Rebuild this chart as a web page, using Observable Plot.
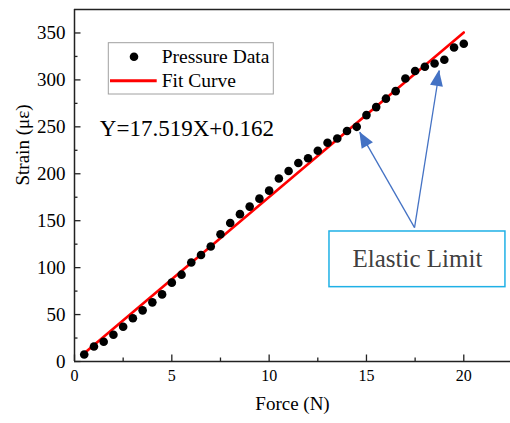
<!DOCTYPE html>
<html><head><meta charset="utf-8">
<script src="https://cdn.jsdelivr.net/npm/d3@7"></script>
<script src="https://cdn.jsdelivr.net/npm/@observablehq/plot@0.6"></script>
<style>
body{margin:0;background:#fff;}
#wrap{position:relative;width:510px;height:423px;font-family:"Liberation Serif","Times New Roman",serif;}
#wrap svg{overflow:visible;}
#wrap svg text{font-family:"Liberation Serif","Times New Roman",serif;}
</style></head>
<body><div id="wrap"></div>
<script>
// ---- data ----
const force = [0.5,1,1.5,2,2.5,3,3.5,4,4.5,5,5.5,6,6.5,7,7.5,8,8.5,9,9.5,10,10.5,11,11.5,12,12.5,13,13.5,14,14.5,15,15.5,16,16.5,17,17.5,18,18.5,19,19.5,20];
const strain = [7.5,16,21,28.5,37,46,54.5,63,71.5,84,92.5,105.5,113.5,122.5,135.5,147.5,157,165,173.5,182,195,203,211.5,216.5,224.5,233,237.5,245.5,250,262.5,271,280,288,301.5,309.5,314,317.5,321.5,334.5,338.5];
const fitX = [0.5, 20];
const fitY = [8.9, 350.5];
const xTicks = [0,5,10,15,20];
const xMinor = [2.5,7.5,12.5,17.5];
const yTicks = [0,50,100,150,200,250,300,350];
const yMinor = [25,75,125,175,225,275,325];
const xLabel = "Force (N)";
const yLabel = "Strain (με)";
const seriesNames = ["Pressure Data","Fit Curve"];
const equation = "Y=17.519X+0.162";
const calloutLabel = "Elastic Limit";
const calloutBox = [{x1:13.1, x2:22.14, y1:79.2, y2:138.5}];
const arrowFrom = [17.47, 142.7];
const arrowTips = [[14.66, 244.3],[18.75, 310]];

const points = force.map((f,i)=>({f, s: strain[i]}));
const fit = fitX.map((f,i)=>({f, s: fitY[i]}));
const xDomain = [0, 22.4], yDomain = [0, 375];
const axisColor = "#222";
const blue = "#4472c4";
const serif = '"Liberation Serif","Times New Roman",serif';

function arrowHeads(index, scales) {
  const g = d3.create("svg:g");
  const bx = scales.x(arrowFrom[0]), by = scales.y(arrowFrom[1]);
  for (const [tx, ty] of arrowTips) {
    const px = scales.x(tx), py = scales.y(ty);
    const ang = Math.atan2(py - by, px - bx);
    const L = 16, W = 6.5;
    const ux = Math.cos(ang), uy = Math.sin(ang);
    const cx = px - ux * L, cy = py - uy * L;
    const pts = [[px, py], [cx - uy * W, cy + ux * W], [cx + uy * W, cy - ux * W]];
    g.append("polygon").attr("points", pts.map(p => p.join(",")).join(" ")).attr("fill", blue);
  }
  return g.node();
}

const chart = Plot.plot({
  width: 510, height: 423,
  marginLeft: 74, marginRight: 0, marginTop: 9, marginBottom: 62,
  style: {fontFamily: serif, background: "#fff", color: "#000"},
  x: {domain: xDomain, label: null},
  y: {domain: yDomain, label: null},
  marks: [
    Plot.axisX(xTicks, {tickSize: 0, tickPadding: 8.6, fontSize: 16, fontFamily: serif, label: null}),
    Plot.axisY(yTicks, {tickSize: 0, tickPadding: 9, fontSize: 19, fontFamily: serif, label: null}),
    // inward ticks
    Plot.ruleX(xTicks, {x: d => d, y1: 0, y2: 6.5 / 0.9387, stroke: axisColor, strokeWidth: 1.3}),
    Plot.ruleX(xMinor, {x: d => d, y1: 0, y2: 3.5 / 0.9387, stroke: axisColor, strokeWidth: 1.3}),
    Plot.ruleY(yTicks, {y: d => d, x1: 0, x2: 6.5 / 19.464, stroke: axisColor, strokeWidth: 1.3}),
    Plot.ruleY(yMinor, {y: d => d, x1: 0, x2: 3.5 / 19.464, stroke: axisColor, strokeWidth: 1.3}),
    // frame lines
    Plot.ruleY([yDomain[0]], {stroke: axisColor, strokeWidth: 1.5}),
    Plot.ruleY([yDomain[1]], {stroke: axisColor, strokeWidth: 1.5}),
    Plot.ruleX([xDomain[0]], {stroke: axisColor, strokeWidth: 1.5}),
    // axis titles
    Plot.text([xLabel], {frameAnchor: "bottom", dy: 48.7, fontSize: 19, fontFamily: serif, fill: "#000"}),
    Plot.text([yLabel], {frameAnchor: "left", dx: -52, rotate: -90, fontSize: 19, fontFamily: serif, fill: "#000"}),
    // fit and data
    Plot.line(fit, {x: "f", y: "s", stroke: "#ff0000", strokeWidth: 2.6}),
    Plot.dot(points, {x: "f", y: "s", r: 4.3, fill: "#000", stroke: null}),
    // equation
    Plot.text([equation], {x: 1.3, y: 248.2, textAnchor: "start", fontSize: 23, fontFamily: serif, fill: "#000"}),
    // callout
    Plot.rect(calloutBox, {x1: "x1", x2: "x2", y1: "y1", y2: "y2", fill: "#fff", stroke: "#1fb0e6", strokeWidth: 1.5}),
    Plot.text(calloutBox, {x: d => (d.x1 + d.x2) / 2, y: d => (d.y1 + d.y2) / 2, text: () => calloutLabel, fontSize: 25, fontFamily: serif, fill: "#404040"}),
    Plot.link(arrowTips, {x1: () => arrowFrom[0], y1: () => arrowFrom[1], x2: d => d[0], y2: d => d[1], stroke: blue, strokeWidth: 1.3}),
    arrowHeads
  ]
});
document.getElementById("wrap").appendChild(chart);

// legend (inside plot area)
const leg = d3.select("#wrap").append("svg")
  .attr("width", 170).attr("height", 56)
  .style("position", "absolute").style("left", "107px").style("top", "42px");
leg.append("rect").attr("x", 1.3).attr("y", 0.7).attr("width", 165).attr("height", 51.3)
  .attr("fill", "#fff").attr("stroke", "#a0a0a0").attr("stroke-width", 1);
leg.append("circle").attr("cx", 27).attr("cy", 14.7).attr("r", 4.3).attr("fill", "#000");
leg.append("line").attr("x1", 3).attr("x2", 49.7).attr("y1", 38.7).attr("y2", 38.7)
  .attr("stroke", "#ff0000").attr("stroke-width", 3);
leg.selectAll("text.lab").data(seriesNames).join("text")
  .attr("x", 54.7).attr("y", (d, i) => i === 0 ? 21.3 : 44.7)
  .attr("font-size", 19.5).attr("font-family", serif)
  .attr("fill", "#000").text(d => d);
</script>
</body></html>
